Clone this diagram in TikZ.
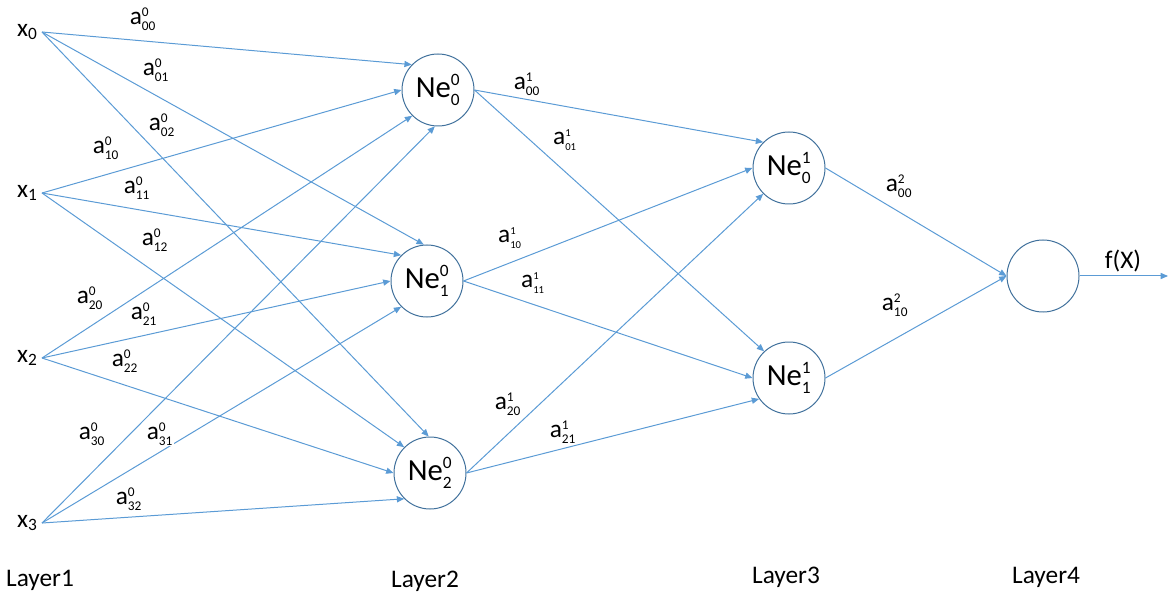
\documentclass[tikz,border=0pt]{standalone}
\usepackage{amsmath}
\usepackage{fontspec}
\setmainfont{Carlito}
\usetikzlibrary{arrows.meta}

\tikzset{every picture/.style={line width=0.75pt}}
\definecolor{edgeblue}{RGB}{91,155,213}
\definecolor{rimblue}{RGB}{65,113,156}
\tikzset{
  wire/.style={color=edgeblue, -{Triangle[length=5.5pt,width=4.6pt]}},
  neuron/.style={circle, draw=rimblue, minimum size=54pt, inner sep=0pt, font=\fontsize{23}{26}\selectfont},
  inp/.style={inner sep=3pt, anchor=east, font=\fontsize{19}{22}\selectfont},
  lbl/.style={inner sep=0.75pt, font=\fontsize{19}{22}\selectfont},
  lblw/.style={lbl, fill=white},
}
\newcommand{\wgt}[3][10]{$\text{a}^{\text{\fontsize{#1}{#1}\selectfont #2}}_{\text{\fontsize{#1}{#1}\selectfont #3}}$}
\newcommand{\neu}[2]{$\text{Ne}^{\text{\fontsize{13}{13}\selectfont #1}}_{\text{\fontsize{13}{13}\selectfont #2}}$}
\newcommand{\xin}[1]{$\text{x}_{\text{\fontsize{13}{13}\selectfont #1}}$}

\begin{document}
\begin{tikzpicture}[x=0.75pt,y=0.75pt,yscale=-1,xscale=1]
\path[use as bounding box] (0,0) rectangle (1169,598); %set diagram to 1169 x 598

%Inputs
\node[inp] (x0) at (42,32) {\xin{0}};
\node[inp] (x1) at (42,193) {\xin{1}};
\node[inp] (x2) at (42,358) {\xin{2}};
\node[inp] (x3) at (42,523) {\xin{3}};

%Shape: Circle
\node[neuron] (ne00) at (438,90) {\neu{0}{0}};
\node[neuron] (ne10) at (427,281) {\neu{0}{1}};
\node[neuron] (ne20) at (430,473) {\neu{0}{2}};
\node[neuron] (ne01) at (789,168) {\neu{1}{0}};
\node[neuron] (ne11) at (789,378) {\neu{1}{1}};
\node[neuron] (out) at (1043,276) {};
\coordinate (fx) at (1168,276);

%Straight Lines: layer 1 to layer 2
\draw[wire] (x0.east) -- (ne00.136);
\draw[wire] (x0.east) -- (ne10.95);
\draw[wire] (x0.east) -- (ne20.92);
\draw[wire] (x1.east) -- (ne00.180);
\draw[wire] (x1.east) -- (ne10.135);
\draw[wire] (x1.east) -- (ne20.135);
\draw[wire] (x2.east) -- (ne00.225);
\draw[wire] (x2.east) -- (ne10.180);
\draw[wire] (x2.east) -- (ne20.180);
\draw[wire] (x3.east) -- (ne00.265);
\draw[wire] (x3.east) -- (ne10.225);
\draw[wire] (x3.east) -- (ne20.225);
%Straight Lines: layer 2 to layer 3
\draw[wire] (ne00.east) -- (ne01.135);
\draw[wire] (ne00.east) -- (ne11.133);
\draw[wire] (ne10.east) -- (ne01.180);
\draw[wire] (ne10.east) -- (ne11.180);
\draw[wire] (ne20.east) -- (ne01.225);
\draw[wire] (ne20.east) -- (ne11.215);
%Straight Lines: layer 3 to layer 4
\draw[wire] (ne01.east) -- (out.180);
\draw[wire] (ne11.east) -- (out.180);
\draw[wire] (out.east) -- (fx);

% Text Node
\node[lbl] (w000) at (143,19) {\wgt{0}{00}};
\node[lbl] (w001) at (156,70) {\wgt{0}{01}};
\node[lbl] (w002) at (162,125) {\wgt{0}{02}};
\node[lbl] (w010) at (106,148) {\wgt{0}{10}};
\node[lbl] (w011) at (137,188) {\wgt{0}{11}};
\node[lbl] (w012) at (155,240) {\wgt{0}{12}};
\node[lbl] (w020) at (90,298) {\wgt{0}{20}};
\node[lbl] (w021) at (144,314) {\wgt{0}{21}};
\node[lbl] (w022) at (125,361) {\wgt{0}{22}};
\node[lbl] (w030) at (92,434) {\wgt{0}{30}};
\node[lblw] (w031) at (160,434) {\wgt{0}{31}};
\node[lbl] (w032) at (129,499) {\wgt{0}{32}};
% Text Node
\node[lbl] (w100) at (527,84) {\wgt{1}{00}};
\node[lbl] (w101) at (565,140) {\wgt[8]{1}{01}};
\node[lbl] (w110) at (510,238) {\wgt[8]{1}{10}};
\node[lbl] (w111) at (533,283) {\wgt[8]{1}{11}};
\node[lblw] (w120) at (508,404) {\wgt{1}{20}};
\node[lbl] (w121) at (563,432) {\wgt{1}{21}};
% Text Node
\node[lbl] (w200) at (899,186) {\wgt{2}{00}};
\node[lbl] (w210) at (895,305) {\wgt{2}{10}};
\node[lbl] (fxl) at (1123,261) {f(X)};
% Text Node
\node[lbl] (lay1) at (40,580) {Layer1};
\node[lbl] (lay2) at (425,581) {Layer2};
\node[lbl] (lay3) at (786,577) {Layer3};
\node[lbl] (lay4) at (1046,577) {Layer4};
\end{tikzpicture}
\end{document}
